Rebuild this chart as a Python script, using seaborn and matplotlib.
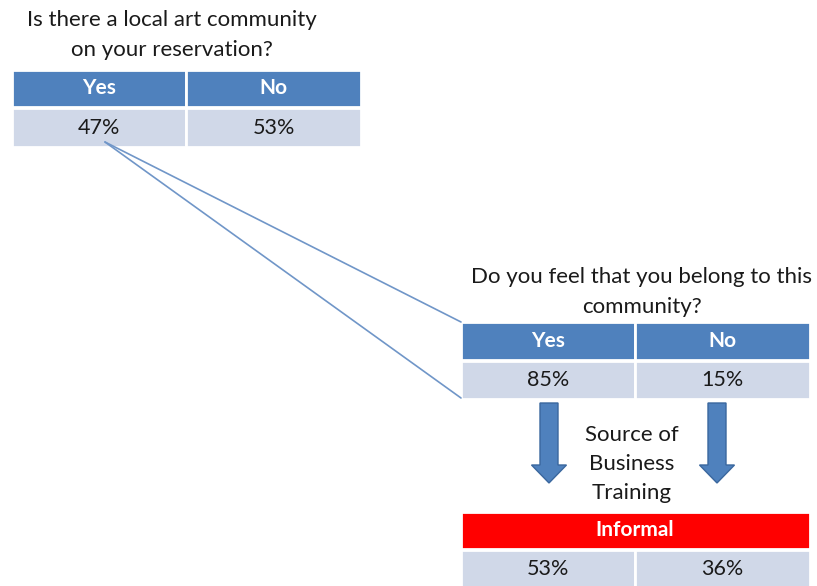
import matplotlib
matplotlib.use("Agg")
import matplotlib.pyplot as plt
from matplotlib.patches import Rectangle, FancyArrow
import seaborn as sns

# Survey answers
q1_title = ["Is there a local art community", "on your reservation?"]
q1_labels = ["Yes", "No"]
q1_values = ["47%", "53%"]

q2_title = ["Do you feel that you belong to this", "community?"]
q2_labels = ["Yes", "No"]
q2_values = ["85%", "15%"]

q3_title = ["Source of", "Business", "Training"]
q3_label = "Informal"
q3_values = ["53%", "36%"]

sns.set_theme(style="white")
plt.rcParams["font.family"] = ["Lato", "DejaVu Sans"]

HEAD = "#4F81BD"
CELL = "#D0D8E8"
RED = "#FF0000"
TXT = "#1A1A1A"
FS_HEAD = 15
FS_VAL = 15.5
FS_TITLE = 16

fig = plt.figure(figsize=(8.17, 5.86), dpi=100)
ax = fig.add_axes([0, 0, 1, 1])
ax.set_xlim(0, 817)
ax.set_ylim(586, 0)
ax.axis("off")


def cell(x0, y0, x1, y1, color, text, tcolor, bold=False, fs=FS_VAL, ty=None):
    ax.add_patch(Rectangle((x0, y0), x1 - x0, y1 - y0, facecolor=color,
                           edgecolor="white", linewidth=2, zorder=2))
    ax.text((x0 + x1) / 2, (y0 + y1) / 2 if ty is None else ty, text,
            ha="center", va="center", fontsize=fs, color=tcolor,
            fontweight="bold" if bold else "normal", zorder=3)


def table(x0, xm, x1, yh0, yh1, yv0, yv1, labels, values):
    cell(x0, yh0, xm, yh1, HEAD, labels[0], "white", True, FS_HEAD)
    cell(xm, yh0, x1, yh1, HEAD, labels[1], "white", True, FS_HEAD)
    cell(x0, yv0, xm, yv1, CELL, values[0], TXT)
    cell(xm, yv0, x1, yv1, CELL, values[1], TXT)


# first question
for i, line in enumerate(q1_title):
    ax.text(172, 20 + i * 30, line, ha="center", va="center",
            fontsize=FS_TITLE, color=TXT)
table(12, 186, 361, 70, 107, 108, 147, q1_labels, q1_values)

# connector lines from the "Yes" answer to the follow-up question
ax.plot([105, 461], [142, 322], color="#7096C8", lw=1.2, zorder=4)
ax.plot([105, 461], [142, 398], color="#7096C8", lw=1.2, zorder=4)

# second question
for i, line in enumerate(q2_title):
    ax.text(642, 277 + i * 30, line, ha="center", va="center",
            fontsize=FS_TITLE, color=TXT)
table(461, 635, 810, 322, 360, 361, 399, q2_labels, q2_values)

# arrows
for xc in (549, 717):
    ax.add_patch(FancyArrow(xc, 403, 0, 80, width=18, head_width=35,
                            head_length=18, length_includes_head=True,
                            facecolor=HEAD, edgecolor="#3A679E", lw=1, zorder=2))

for i, line in enumerate(q3_title):
    ax.text(632, 435 + i * 29, line, ha="center", va="center",
            fontsize=FS_TITLE, color=TXT)

# third block
ax.add_patch(Rectangle((461, 512), 349, 37, facecolor=RED, edgecolor="white",
                       linewidth=2, zorder=2))
ax.text(635, 530, q3_label, ha="center", va="center", fontsize=FS_HEAD,
        color="white", fontweight="bold", zorder=3)
cell(461, 550, 635, 592, CELL, q3_values[0], TXT, ty=569)
cell(635, 550, 810, 592, CELL, q3_values[1], TXT, ty=569)

fig.savefig("out.png", dpi=100, facecolor="white")
